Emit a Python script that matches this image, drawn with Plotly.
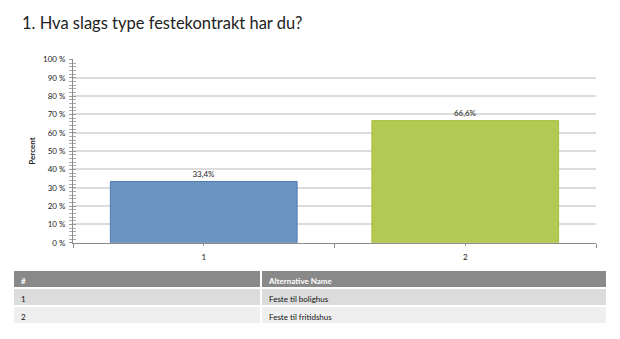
import plotly.graph_objects as go

categories = [1, 2]
values = [33.4, 66.6]
alt_names = ["Feste til bolighus", "Feste til fritidshus"]
bar_colors = ["#6c94c1", "#b4c953"]
bar_lines = ["#4f7db0", "#a5bd40"]
y_ticks = list(range(0, 101, 10))
y_ticktext = [f"{v} %" for v in y_ticks]
labels = [f"{v:.1f}".replace(".", ",") + "%" for v in values]

font = "Lato, Open Sans, sans-serif"

fig = go.Figure()
fig.add_trace(go.Bar(
    x=categories, y=values, width=0.714,
    marker=dict(color=bar_colors, line=dict(color=bar_lines, width=1)),
    text=labels, textposition="outside", cliponaxis=False,
    textfont=dict(size=8, color="#222222", family=font),
    hoverinfo="skip", showlegend=False,
))

fig.add_trace(go.Table(
    domain=dict(x=[13/620, 607/620], y=[0, 1-273/339]),
    columnwidth=[248, 346],
    header=dict(values=["#", "Alternative Name"],
                fill_color="#898989", line=dict(color="white", width=2),
                font=dict(color="white", size=8, family=font, weight="bold"),
                align="left", height=18),
    cells=dict(values=[[str(c) for c in categories], alt_names],
               fill_color=[["#dcdcdc", "#efefef"]],
               line=dict(color="white", width=2),
               font=dict(color="#111111", size=8, family=font),
               align="left", height=18),
))

fig.update_layout(
    width=620, height=339,
    margin=dict(l=0, r=0, t=0, b=0),
    paper_bgcolor="white", plot_bgcolor="white",
    font=dict(family=font, color="#333333"),
    title=dict(text="1. Hva slags type festekontrakt har du?",
               x=22/620, xanchor="left", y=1-23/339, yanchor="middle",
               font=dict(size=16.5, color="#222222", family=font)),
    xaxis=dict(domain=[73/620, 596/620], range=[0.5, 2.5],
               tickvals=categories, ticktext=[str(c) for c in categories],
               ticks="outside", ticklen=2, tickcolor="#999999",
               ticklabelstandoff=5,
               minor=dict(tick0=0.5, dtick=1, ticks="outside", ticklen=4, tickcolor="#888888"),
               showline=True, linecolor="#8c8c8c", linewidth=1,
               showgrid=False, zeroline=False,
               tickfont=dict(size=8, color="#222222")),
    yaxis=dict(domain=[1-245/339, 1-56/339], range=[0, 100],
               tickvals=y_ticks, ticktext=y_ticktext,
               ticks="outside", ticklen=3, tickcolor="#999999",
               ticklabelstandoff=2,
               minor=dict(dtick=2, ticks="outside", ticklen=3, tickcolor="#aaaaaa", showgrid=False),
               showline=True, linecolor="#8c8c8c", linewidth=1,
               showgrid=True, gridcolor="#dcdcdc", gridwidth=1.5,
               zeroline=False,
               tickfont=dict(size=8, color="#222222"),
               title=dict(text="<b>Percent</b>", font=dict(size=8, color="#222222"), standoff=6)),
    yaxis2=dict(domain=[1-245/339, 1-56/339], range=[0, 100], overlaying="y",
                anchor="x", side="left",
                tickvals=y_ticks, showticklabels=False,
                ticks="inside", ticklen=3, tickcolor="#999999",
                minor=dict(dtick=2, ticks="inside", ticklen=3, tickcolor="#aaaaaa"),
                showgrid=False, zeroline=False, showline=False),
)
fig.add_trace(go.Scatter(x=[None], y=[None], yaxis="y2", showlegend=False, hoverinfo="skip"))

fig.write_html("out.html")
